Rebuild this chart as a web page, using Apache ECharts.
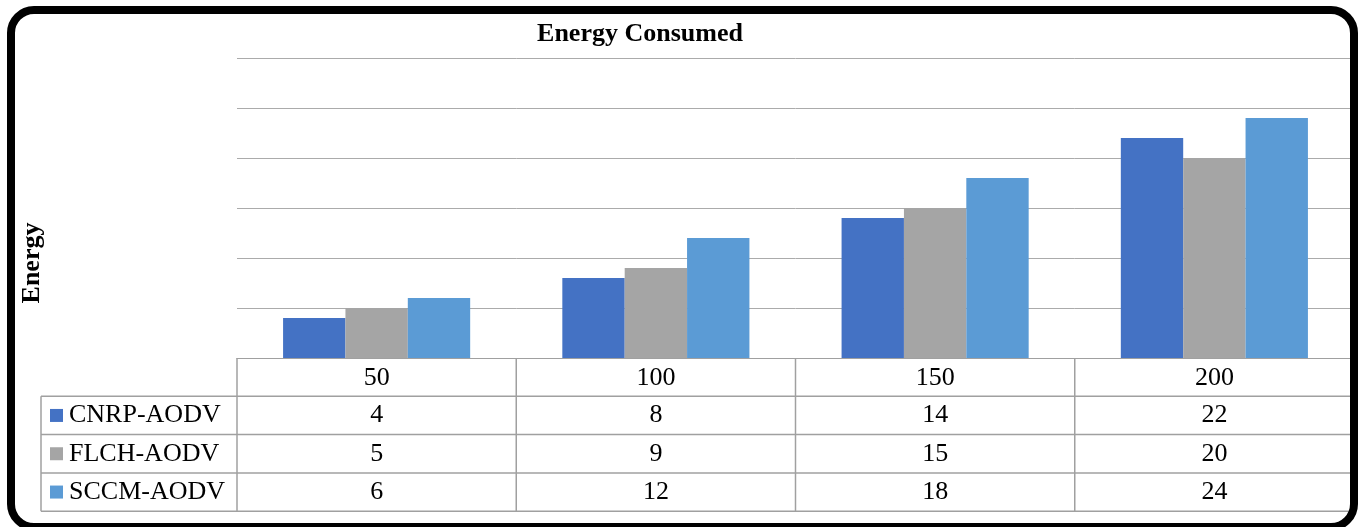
<!DOCTYPE html>
<html>
<head>
<meta charset="utf-8">
<script src="https://cdn.jsdelivr.net/npm/echarts@6/dist/echarts.min.js"></script>
<style>
  html, body { margin: 0; padding: 0; background: #ffffff; }
  #chart { width: 1359px; height: 527px; }
</style>
</head>
<body>
<div id="chart"></div>
<script>
// Number of nodes on the x axis
const categories = ['50', '100', '150', '200'];
// Energy consumed per protocol
const cnrpAodv = [4, 8, 14, 22];
const flchAodv = [5, 9, 15, 20];
const sccmAodv = [6, 12, 18, 24];
const seriesNames = ['CNRP-AODV', 'FLCH-AODV', 'SCCM-AODV'];
const seriesValues = [cnrpAodv, flchAodv, sccmAodv];
const seriesColors = ['#4472C4', '#A5A5A5', '#5B9BD5'];

const FONT = '"Liberation Serif", "Times New Roman", serif';
const TABLE_LINE = '#A0A0A0';
const FONT_SIZE = 26;

const chart = echarts.init(document.getElementById('chart'), null, { renderer: 'canvas' });

const option = {
  animation: false,
  backgroundColor: '#ffffff',
  textStyle: { fontFamily: FONT },
  grid: { left: 237, right: 5, top: 58, bottom: 169, containLabel: false },
  xAxis: {
    type: 'category',
    data: categories,
    axisLine: { show: true, lineStyle: { color: TABLE_LINE, width: 1 } },
    axisTick: { show: false },
    axisLabel: { show: true, color: '#000', fontSize: FONT_SIZE, fontFamily: FONT, margin: 7 },
    splitLine: { show: false }
  },
  yAxis: {
    type: 'value',
    min: 0, max: 30, interval: 5,
    axisLine: { show: false },
    axisTick: { show: false },
    axisLabel: { show: false },
    splitLine: { show: true, lineStyle: { color: '#ABABAB', width: 1 } }
  },
  series: seriesNames.map((name, i) => ({
    name: name,
    type: 'bar',
    data: seriesValues[i],
    barGap: '0%',
    barCategoryGap: '33%',
    itemStyle: { color: seriesColors[i] }
  }))
};
chart.setOption(option);

// Data table under the plot, laid out from the axis scales
function buildTable() {
  const centers = categories.map((c, i) => chart.convertToPixel({ xAxisIndex: 0 }, i));
  const band = centers[1] - centers[0];
  const y0 = chart.convertToPixel({ yAxisIndex: 0 }, 0);
  const rowH = 38.3;
  const legendLeft = 41;
  const plotLeft = centers[0] - band / 2;
  const plotRight = centers[centers.length - 1] + band / 2;
  const yBottom = y0 + rowH * (seriesNames.length + 1);
  const els = [];
  const line = (x1, y1, x2, y2) => els.push({
    type: 'line', silent: true,
    shape: { x1: x1, y1: y1, x2: x2, y2: y2 },
    style: { stroke: TABLE_LINE, lineWidth: 1.5 }
  });

  // horizontal rules
  for (let r = 1; r <= seriesNames.length + 1; r++) {
    line(legendLeft, y0 + rowH * r, plotRight, y0 + rowH * r);
  }
  // vertical rules at category boundaries
  for (let i = 0; i <= categories.length; i++) {
    const x = plotLeft + band * i;
    line(x, y0, x, yBottom);
  }
  line(legendLeft, y0 + rowH, legendLeft, yBottom);

  // rows: legend key, name, values
  seriesNames.forEach((name, r) => {
    const cy = y0 + rowH * (r + 1.5);
    els.push({
      type: 'rect', silent: true,
      shape: { x: 50, y: cy - 6.5, width: 13, height: 13 },
      style: { fill: seriesColors[r] }
    });
    els.push({
      type: 'text', silent: true,
      x: 69, y: cy,
      style: { text: name, fill: '#000', font: FONT_SIZE + 'px ' + FONT, align: 'left', verticalAlign: 'middle' }
    });
    seriesValues[r].forEach((v, i) => {
      els.push({
        type: 'text', silent: true,
        x: centers[i], y: cy,
        style: { text: String(v), fill: '#000', font: FONT_SIZE + 'px ' + FONT, align: 'center', verticalAlign: 'middle' }
      });
    });
  });

  // title and axis name
  els.push({
    type: 'text', silent: true, x: 640, y: 34,
    style: { text: 'Energy Consumed', fill: '#000', font: 'bold 26px ' + FONT, align: 'center', verticalAlign: 'middle' }
  });
  els.push({
    type: 'text', silent: true, x: 32, y: 263, rotation: Math.PI / 2,
    style: { text: 'Energy', fill: '#000', font: 'bold 26px ' + FONT, align: 'center', verticalAlign: 'middle' }
  });

  // rounded outer frame
  els.push({
    type: 'rect', silent: true, z: 100,
    shape: { x: 11, y: 10, width: 1343, height: 517, r: 23 },
    style: { fill: 'none', stroke: '#000', lineWidth: 8 }
  });

  chart.setOption({ graphic: { elements: els } });
}
buildTable();
</script>
</body>
</html>
